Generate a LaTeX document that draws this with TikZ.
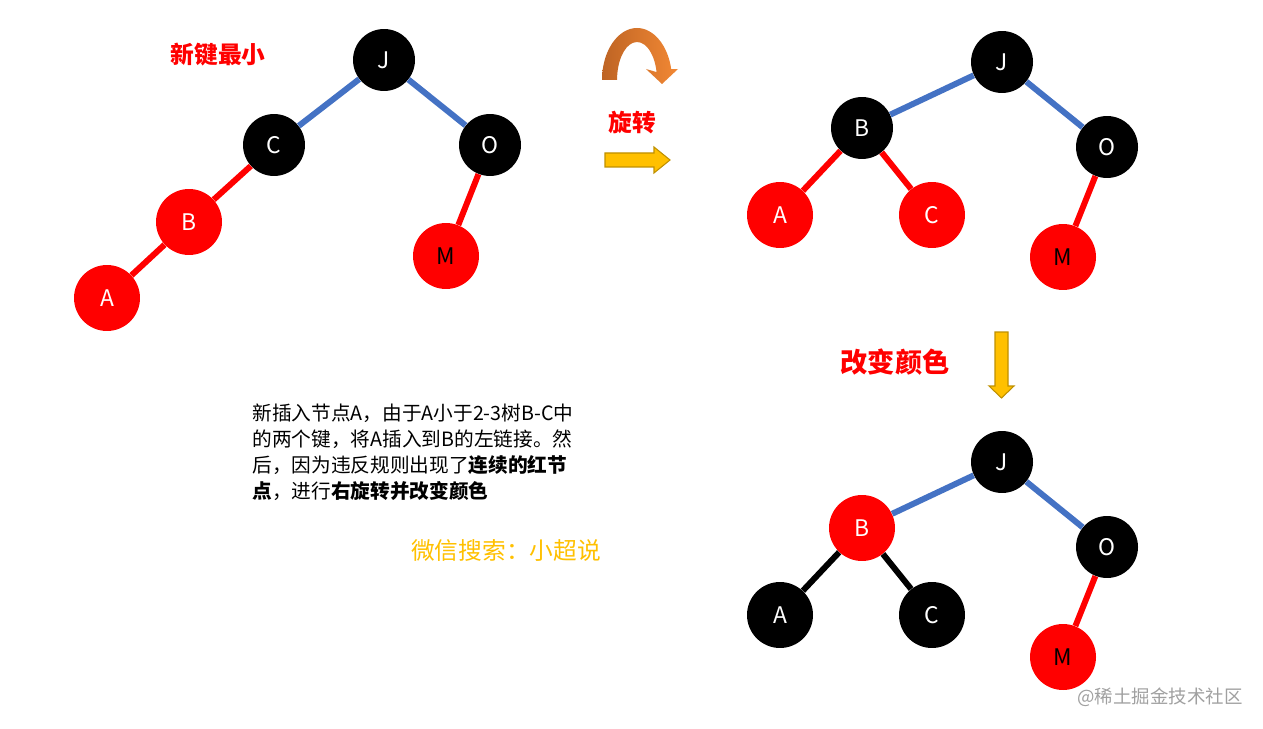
\documentclass[tikz,border=0pt]{standalone}
\usepackage{fontspec}
\setmainfont{Noto Sans CJK SC}
\usetikzlibrary{arrows.meta}

\definecolor{keyred}{RGB}{255,0,0}
\definecolor{linkblue}{RGB}{68,114,196}
\definecolor{arrowgold}{RGB}{255,192,0}
\definecolor{arrowedge}{RGB}{191,144,0}
\definecolor{arcbrown}{RGB}{190,100,36}
\definecolor{arcorange}{RGB}{242,136,52}
\definecolor{markgray}{RGB}{160,160,160}

\tikzset{
    blackkey/.style={circle, fill=black, text=white, minimum size=1.24cm, inner sep=0pt,
        font=\fontsize{13}{14}\selectfont},
    redkey/.style={circle, fill=keyred, text=white, minimum size=1.32cm, inner sep=0pt,
        font=\fontsize{13}{14}\selectfont},
    redlink/.style={draw=keyred, line width=3.4pt},
    bluelink/.style={draw=linkblue, line width=3.4pt},
    blacklink/.style={draw=black, line width=3.4pt},
    caption/.style={text=keyred, font=\bfseries\fontsize{13.5}{15}\selectfont}
}

\begin{document}
\begin{tikzpicture}[x=0.02cm, y=-0.02cm]
\useasboundingbox (0,0) rectangle (1263,729);

% Left tree
\node[blackkey] (lJ) at (384,60) {J};
\node[blackkey] (lC) at (274,145) {C};
\node[blackkey] (lO) at (490,145) {O};
\node[redkey] (lB) at (189,222) {B};
\node[redkey, text=black] (lM) at (446,256) {M};
\node[redkey] (lA) at (107,298) {A};
\draw[bluelink] (lJ) -- (lC);
\draw[bluelink] (lJ) -- (lO);
\draw[redlink] (lC) -- (lB);
\draw[redlink] (lB) -- (lA);
\draw[redlink] (lO) -- (lM);

\node[caption] (title) at (218,55) {新键最小};

% Rotation arrow
\shade[left color=arcbrown, right color=arcorange]
    (602,80) arc[start angle=180, end angle=348, x radius=35, y radius=52]
    -- (678,69) -- (662,84) -- (646,69) -- (656.6,72.1)
    arc[start angle=348, end angle=180, x radius=20, y radius=38] -- cycle;
\node[caption] (rotate) at (632,123) {旋转};
\filldraw[fill=arrowgold, draw=arrowedge, line width=0.6pt]
    (605,153) -- (654,153) -- (654,147) -- (670,160) -- (654,173) -- (654,167) -- (605,167) -- cycle;

% Right tree, rotated
\node[blackkey] (rJ) at (1002,62) {J};
\node[blackkey] (rB) at (862,128) {B};
\node[blackkey] (rO) at (1107,147) {O};
\node[redkey] (rA) at (780,215) {A};
\node[redkey] (rC) at (932,215) {C};
\node[redkey, text=black] (rM) at (1063,257) {M};
\draw[bluelink] (rJ) -- (rB);
\draw[bluelink] (rJ) -- (rO);
\draw[redlink] (rB) -- (rA);
\draw[redlink] (rB) -- (rC);
\draw[redlink] (rO) -- (rM);

% Colour flip arrow
\filldraw[fill=arrowgold, draw=arrowedge, line width=0.6pt]
    (995,332) -- (1008,332) -- (1008,386) -- (1014,386) -- (1001.5,398) -- (989,386) -- (995,386) -- cycle;
\node[caption, font=\bfseries\fontsize{15.5}{17}\selectfont] (recolor) at (895,362) {改变颜色};

% Right tree, recoloured
\node[blackkey] (cJ) at (1002,462) {J};
\node[redkey] (cB) at (862,528) {B};
\node[blackkey] (cO) at (1107,547) {O};
\node[blackkey, minimum size=1.32cm] (cA) at (780,615) {A};
\node[blackkey, minimum size=1.32cm] (cC) at (932,615) {C};
\node[redkey, text=black] (cM) at (1063,657) {M};
\draw[bluelink] (cJ) -- (cB);
\draw[bluelink] (cJ) -- (cO);
\draw[blacklink] (cB) -- (cA);
\draw[blacklink] (cB) -- (cC);
\draw[redlink] (cO) -- (cM);

% Notes
\node[anchor=north west, align=left, inner sep=0pt, font=\fontsize{11.2}{14.7}\selectfont] (note) at (252,404)
    {新插入节点A，由于A小于2-3树B-C中\\
     的两个键，将A插入到B的左链接。然\\
     后，因为违反规则出现了\textbf{连续的红节}\\
     \textbf{点}，进行\textbf{右旋转并改变颜色}};
\node[text=arrowgold, font=\fontsize{13.5}{15}\selectfont] (wechat) at (506,551) {微信搜索：小超说};
\node[text=markgray, font=\fontsize{10.5}{12}\selectfont] (mark) at (1160,697) {@稀土掘金技术社区};
\end{tikzpicture}
\end{document}
